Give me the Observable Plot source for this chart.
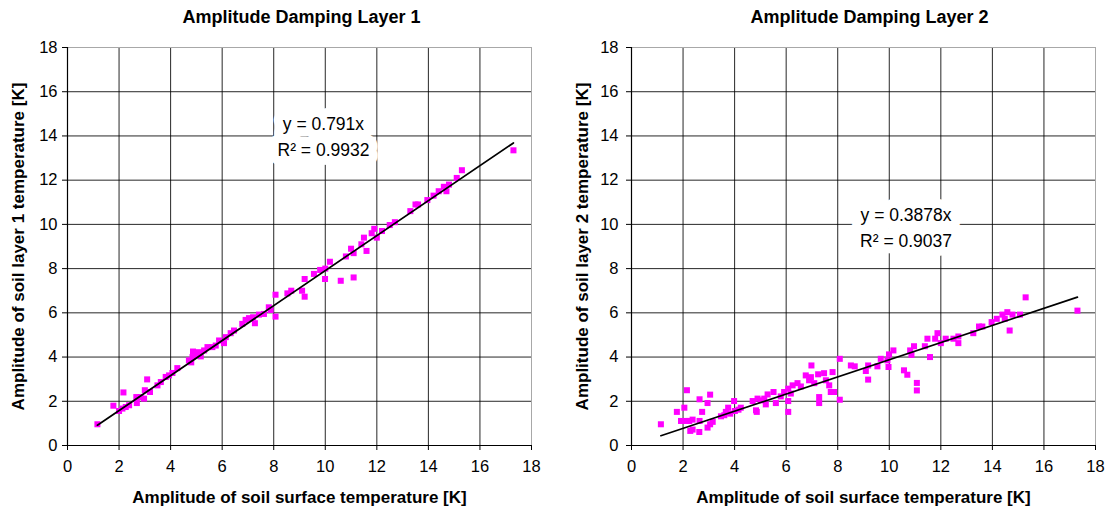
<!DOCTYPE html>
<html>
<head>
<meta charset="utf-8">
<script src="https://cdn.jsdelivr.net/npm/d3@7"></script>
<script src="https://cdn.jsdelivr.net/npm/@observablehq/plot@0.6"></script>
<style>
  html, body { margin: 0; padding: 0; background: #fff; }
  #wrap { position: relative; width: 1111px; height: 515px; overflow: hidden; }
  .panel { position: absolute; top: 0; width: 555px; height: 515px; }
</style>
</head>
<body>
<div id="wrap">
  <div class="panel" id="p1" style="left:0px"></div>
  <div class="panel" id="p2" style="left:556px"></div>
</div>
<script>
// ---------- data ----------
const xTicks = [0, 2, 4, 6, 8, 10, 12, 14, 16, 18];
const yTicks = [0, 2, 4, 6, 8, 10, 12, 14, 16, 18];
const gridTicks = [2, 4, 6, 8, 10, 12, 14, 16];

const titles = ["Amplitude Damping Layer 1", "Amplitude Damping Layer 2"];
const xLabel = "Amplitude of soil surface temperature [K]";
const yLabels = ["Amplitude of soil layer 1 temperature [K]", "Amplitude of soil layer 2 temperature [K]"];
const slopes = [0.791, 0.3878];
const r2Values = ["0.9932", "0.9037"];

const layer1X = [1.16, 1.78, 2.0, 2.13, 2.17, 2.26, 2.39, 2.67, 2.69, 2.84, 2.97, 3.0, 3.09, 3.2, 3.49, 3.62, 3.81, 3.94, 4.07, 4.26,
  4.71, 4.8, 4.85, 4.87, 4.97, 5.1, 5.17, 5.3, 5.43, 5.62, 5.75, 5.88, 6.07, 6.14, 6.33, 6.46, 6.78, 6.91, 7.04, 7.2,
  7.27, 7.43, 7.62, 7.81, 7.88, 8.07, 8.07, 8.53, 8.68, 9.1, 9.2, 9.2, 9.56, 9.8, 9.99, 10.0, 10.18, 10.6, 11.1, 10.8,
  11.0, 11.1, 11.4, 11.6, 11.5, 11.8, 11.9, 12.0, 12.2, 12.5, 12.7, 13.3, 13.5, 13.6, 13.96, 14.2, 14.4, 14.6, 14.7, 14.8,
  15.1, 15.3, 17.3];
const layer1Y = [0.96, 1.8, 1.56, 1.67, 2.4, 1.74, 1.82, 2.19, 1.92, 2.19, 2.12, 2.5, 2.99, 2.42, 2.72, 2.87, 3.1, 3.17, 3.28, 3.5,
  3.85, 3.76, 4.0, 4.25, 4.07, 4.22, 4.03, 4.3, 4.45, 4.45, 4.52, 4.75, 4.63, 4.9, 5.08, 5.2, 5.5, 5.68, 5.76, 5.8,
  5.53, 5.92, 5.95, 6.25, 6.13, 6.82, 5.83, 6.88, 7.0, 7.0, 7.53, 6.73, 7.76, 7.94, 7.53, 8.0, 8.31, 7.45, 7.6, 8.55,
  8.9, 8.7, 9.1, 8.8, 9.4, 9.6, 9.8, 9.4, 9.7, 9.97, 10.1, 10.6, 10.9, 10.9, 11.1, 11.3, 11.5, 11.7, 11.5, 11.8,
  12.1, 12.45, 13.35];

const layer2X = [1.14, 1.76, 2.15, 2.05, 1.92, 2.11, 2.24, 2.37, 2.28, 2.37, 2.63, 2.64, 2.74, 2.95, 3.05, 2.95, 3.05, 3.15, 2.64, 3.47,
  3.6, 3.66, 3.75, 3.83, 3.98, 4.01, 4.15, 4.24, 4.7, 4.83, 4.86, 4.89, 5.02, 5.15, 5.28, 5.21, 5.51, 5.6, 5.79, 5.92,
  6.08, 6.08, 6.08, 6.18, 6.25, 6.44, 6.57, 6.76, 6.89, 6.96, 6.98, 7.09, 7.24, 7.28, 7.28, 7.47, 7.54, 7.67, 7.73, 7.8,
  7.86, 8.08, 8.08, 8.51, 8.66, 9.09, 9.18, 9.18, 9.54, 9.67, 9.93, 9.97, 9.99, 10.16, 10.57, 10.7, 10.81, 10.86, 10.96, 11.07,
  11.07, 11.38, 11.48, 11.58, 11.78, 11.87, 12.0, 12.19, 12.49, 12.68, 12.68, 13.26, 13.48, 13.61, 13.97, 14.17, 14.39, 14.48, 14.58, 14.67,
  14.78, 15.07, 15.29, 17.3];
const layer2Y = [0.96, 1.52, 2.5, 1.71, 1.11, 1.11, 1.11, 1.17, 0.66, 0.72, 0.61, 2.09, 1.52, 1.92, 2.3, 0.81, 0.96, 1.07, 1.11, 1.32,
  1.37, 1.52, 1.71, 1.44, 2.01, 1.56, 1.62, 1.71, 2.01, 1.59, 1.52, 2.12, 2.04, 2.12, 2.31, 1.86, 2.42, 1.92, 2.22, 2.42,
  2.57, 2.01, 1.52, 2.35, 2.72, 2.82, 2.67, 3.17, 2.95, 3.09, 3.62, 2.82, 3.22, 2.19, 1.92, 3.27, 2.95, 2.72, 2.42, 3.32,
  2.42, 3.92, 2.07, 3.62, 3.58, 3.37, 3.62, 2.98, 3.58, 3.92, 3.85, 3.55, 4.12, 4.3, 3.4, 3.2, 4.3, 4.1, 4.49, 2.83,
  2.49, 4.49, 4.83, 4.0, 4.83, 5.08, 4.63, 4.83, 4.83, 4.63, 4.93, 5.08, 5.38, 5.38, 5.58, 5.73, 5.92, 5.73, 6.03, 5.2,
  5.92, 5.92, 6.7, 6.1];

// ---------- chart ----------
const FONT = "'Liberation Sans', Arial, Helvetica, sans-serif";

function panel(i, xs, ys, opts) {
  const data = xs.map((x, k) => ({x, y: ys[k]}));
  const [x0, x1] = d3.extent(xs);
  const trend = [x0, x1].map(x => ({x, y: slopes[i] * x}));
  const eq = [{x: opts.labelX, y: opts.labelY, t: `y = ${slopes[i]}x\nR\u00B2 = ${r2Values[i]}`}];
  return Plot.plot({
    width: 555,
    height: 515,
    marginLeft: opts.marginLeft,
    marginRight: opts.marginRight,
    marginTop: 47,
    marginBottom: 70,
    x: {domain: [0, 18]},
    y: {domain: [0, 18]},
    style: {fontFamily: FONT, fontSize: "16.5px", color: "#000", background: "#fff", overflow: "visible"},
    marks: [
      Plot.gridX(gridTicks, {stroke: "#000", strokeOpacity: 0.85, strokeWidth: 1}),
      Plot.gridY(gridTicks, {stroke: "#000", strokeOpacity: 0.85, strokeWidth: 1}),
      Plot.frame({stroke: "#a8a8a8"}),
      Plot.ruleX([0], {stroke: "#000", strokeWidth: 1.2}),
      Plot.ruleY([0], {stroke: "#000", strokeWidth: 1.2}),
      Plot.axisY(yTicks, {tickSize: 5, tickPadding: opts.tickPadY, label: null, fontSize: 16.5, stroke: "#000"}),
      Plot.axisX(xTicks, {tickSize: 5, tickPadding: 10, label: null, fontSize: 16.5, stroke: "#000"}),
      Plot.dot(data, {x: "x", y: "y", symbol: "square", r: 3.4, fill: "#ff00ff", stroke: "none"}),
      Plot.line(trend, {x: "x", y: "y", stroke: "#000", strokeWidth: 1.7}),
      Plot.text(eq, {x: "x", y: "y", text: "t", fontSize: 17.5, lineHeight: 1.45, lineAnchor: "middle",
        fill: "#000", stroke: "#fff", strokeWidth: 18, strokeLinejoin: "round"}),
      Plot.text([titles[i]], {frameAnchor: "top", dy: -30, lineAnchor: "middle", textAnchor: "middle",
        text: d => d, fontWeight: "bold", fontSize: 18, dx: opts.titleDx}),
      Plot.text([xLabel], {frameAnchor: "bottom", dy: 52, lineAnchor: "middle", textAnchor: "middle",
        text: d => d, fontWeight: "bold", fontSize: 17}),
      Plot.text([yLabels[i]], {frameAnchor: "left", dx: -49, rotate: -90, lineAnchor: "middle", textAnchor: "middle",
        text: d => d, fontWeight: "bold", fontSize: 17})
    ]
  });
}

document.getElementById("p1").appendChild(
  panel(0, layer1X, layer1Y, {marginLeft: 67, marginRight: 24, tickPadY: 5, labelX: 9.93, labelY: 14.04, titleDx: 2}));
document.getElementById("p2").appendChild(
  panel(1, layer2X, layer2Y, {marginLeft: 75, marginRight: 16, tickPadY: 8, labelX: 10.65, labelY: 9.93, titleDx: 6}));
</script>
</body>
</html>
